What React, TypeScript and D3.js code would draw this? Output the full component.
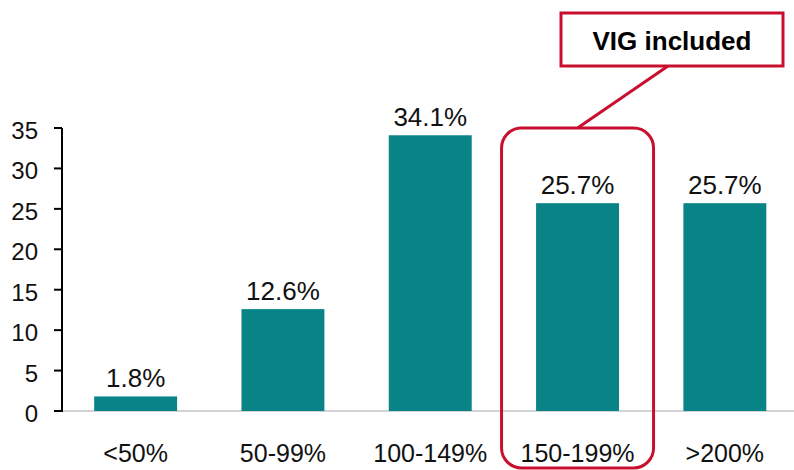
import React from "react";
import * as d3 from "d3";

const categories = ["<50%", "50-99%", "100-149%", "150-199%", ">200%"];
const values = [1.8, 12.6, 34.1, 25.7, 25.7];
const yTicks = [0, 5, 10, 15, 20, 25, 30, 35];
const highlightCategory = "150-199%";
const calloutText = "VIG included";

const W = 794;
const H = 470;
const TEAL = "#088487";
const RED = "#c8102e";
const FONT = "Arial, 'Liberation Sans', sans-serif";

export default function App() {
  const x = d3.scaleBand<string>().domain(categories).range([62, 798.5]).paddingInner(0.437).paddingOuter(0.2185);
  const y = d3.scaleLinear().domain([0, 35]).range([411, 128]);
  const hx = x(highlightCategory)! + x.bandwidth() / 2;

  return (
    <svg width={W} height={H} style={{ position: "absolute", left: 0, top: 0, background: "#fff" }}>
      {/* baseline */}
      <line x1={62} x2={W} y1={y(0)} y2={y(0)} stroke="#d4d4d4" strokeWidth={2} />
      {/* bars */}
      {values.map((v, i) => (
        <g key={categories[i]}>
          <rect x={x(categories[i])} y={y(v)} width={x.bandwidth()} height={y(0) - y(v)} fill={TEAL} />
          <text x={x(categories[i])! + x.bandwidth() / 2} y={y(v) - 9} textAnchor="middle" fontSize={26} fontFamily={FONT} fill="#111">
            {v.toFixed(1)}%
          </text>
          <text x={x(categories[i])! + x.bandwidth() / 2} y={462} textAnchor="middle" fontSize={25} fontFamily={FONT} fill="#111">
            {categories[i]}
          </text>
        </g>
      ))}
      {/* y axis */}
      <line x1={62} x2={62} y1={y(35)} y2={y(0) + 1} stroke="#000" strokeWidth={2} />
      {yTicks.map((t) => (
        <g key={t}>
          <line x1={54} x2={62} y1={y(t)} y2={y(t)} stroke="#000" strokeWidth={2} />
          <text x={38} y={y(t) + 11} textAnchor="end" fontSize={24} fontFamily={FONT} fill="#111">
            {t}
          </text>
        </g>
      ))}
      {/* highlight rounded rect */}
      <rect x={hx - 76} y={128} width={152} height={340} rx={20} ry={20} fill="none" stroke={RED} strokeWidth={3} />
      {/* callout connector */}
      <line x1={hx} y1={128} x2={668} y2={66} stroke={RED} strokeWidth={3} />
      {/* callout box */}
      <rect x={561} y={13} width={222} height={53} fill="#fff" stroke={RED} strokeWidth={3} />
      <text x={672} y={50} textAnchor="middle" fontSize={26} fontWeight="bold" fontFamily={FONT} fill="#000">
        {calloutText}
      </text>
    </svg>
  );
}
